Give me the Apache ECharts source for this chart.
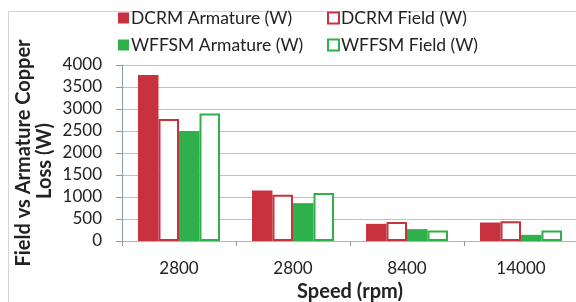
<!DOCTYPE html>
<html>
<head>
    <meta charset="utf-8">
    <title>Copper loss</title>
    <script src="https://cdn.jsdelivr.net/npm/echarts@6/dist/echarts.min.js"></script>
    <style>
        html, body { margin: 0; padding: 0; background: #fff; }
    </style>
</head>
<body>
    <div id="main" style="width: 576px;height:302px;"></div>
    <script type="text/javascript">
        // speeds (two groups both labelled 2800 in the source)
        var speeds = ['2800', '2800 ', '8400', '14000'];
        var dcrmArmature = [3770, 1150, 390, 420];
        var dcrmField = [2770, 1050, 430, 450];
        var wffsmArmature = [2500, 860, 270, 140];
        var wffsmField = [2900, 1090, 240, 240];
        var yTicks = [0, 500, 1000, 1500, 2000, 2500, 3000, 3500, 4000];

        var red = '#c8323f';
        var green = '#2eb14a';
        var font = 'Lato, "Open Sans", sans-serif';

        var myChart = echarts.init(document.getElementById('main'));

        function filled(name, color, data) {
            return {
                name: name, type: 'bar', data: data,
                barWidth: 20.5, barGap: '0%',
                itemStyle: { color: color },
                animation: false
            };
        }
        function hollow(name, color, data) {
            return {
                name: name, type: 'bar', data: data,
                barWidth: 20.5, barGap: '0%',
                itemStyle: { color: '#fff', borderColor: color, borderWidth: 2 },
                animation: false
            };
        }
        // one legend per entry so the 2x2 layout sits where the original has it
        function legendAt(name, left, top) {
            return {
                left: left, top: top, padding: 0,
                itemWidth: 11, itemHeight: 11,
                textStyle: { fontSize: 17.5, color: '#222', fontFamily: font, padding: [0, 0, 0, -3] },
                data: [{ name: name, icon: 'rect' }]
            };
        }

        var option = {
            backgroundColor: '#fff',
            animation: false,
            textStyle: { fontFamily: font },
            graphic: [{
                type: 'rect', left: 6, top: 9,
                shape: { width: 600, height: 320 },
                style: { fill: 'none', stroke: '#d4d4d4', lineWidth: 1 },
                z: -1
            }, {
                // second line of the y axis title, centred under the first
                type: 'text', x: 45, y: 161, rotation: Math.PI / 2,
                style: {
                    text: 'Loss (W)', fill: '#222', font: 'bold 20px ' + font,
                    textAlign: 'center', textVerticalAlign: 'middle'
                }
            }],
            legend: [
                legendAt('DCRM Armature (W)', 118, 9),
                legendAt('DCRM Field (W)', 327, 9),
                legendAt('WFFSM Armature (W)', 118, 36),
                legendAt('WFFSM Field (W)', 327, 36)
            ],
            grid: { left: 122, right: -2, top: 65, bottom: 61, outerBoundsMode: 'none' },
            xAxis: {
                type: 'category',
                data: speeds,
                name: 'Speed (rpm)',
                nameLocation: 'middle',
                nameGap: 38,
                nameTextStyle: { fontSize: 20, fontWeight: 'bold', color: '#222', fontFamily: font },
                axisLine: { lineStyle: { color: '#c9a9a9', width: 1 } },
                axisTick: { show: true, length: 5, alignWithLabel: false, lineStyle: { color: '#8a9aa6' } },
                axisLabel: { fontSize: 17, color: '#222', margin: 19, fontFamily: font,
                    formatter: function (v) { return v.trim(); } }
            },
            yAxis: {
                type: 'value',
                min: 0, max: 4000, interval: 500,
                name: 'Field vs Armature Copper',
                nameLocation: 'middle',
                nameGap: 88,
                nameRotate: 90,
                nameTextStyle: { fontSize: 20, fontWeight: 'bold', color: '#222', fontFamily: font },
                axisLine: { show: true, lineStyle: { color: '#8a9aa6' } },
                axisTick: { show: true, length: 6, lineStyle: { color: '#8a9aa6' } },
                axisLabel: {
                    fontSize: 17, color: '#222', margin: 20, fontFamily: font,
                    customValues: yTicks,
                    formatter: function (v) { return String(v); }
                },
                splitLine: { lineStyle: { color: '#b4c2ca', width: 1 } }
            },
            series: [
                filled('DCRM Armature (W)', red, dcrmArmature),
                hollow('DCRM Field (W)', red, dcrmField),
                filled('WFFSM Armature (W)', green, wffsmArmature),
                hollow('WFFSM Field (W)', green, wffsmField)
            ]
        };

        myChart.setOption(option);
    </script>
</body>
</html>
